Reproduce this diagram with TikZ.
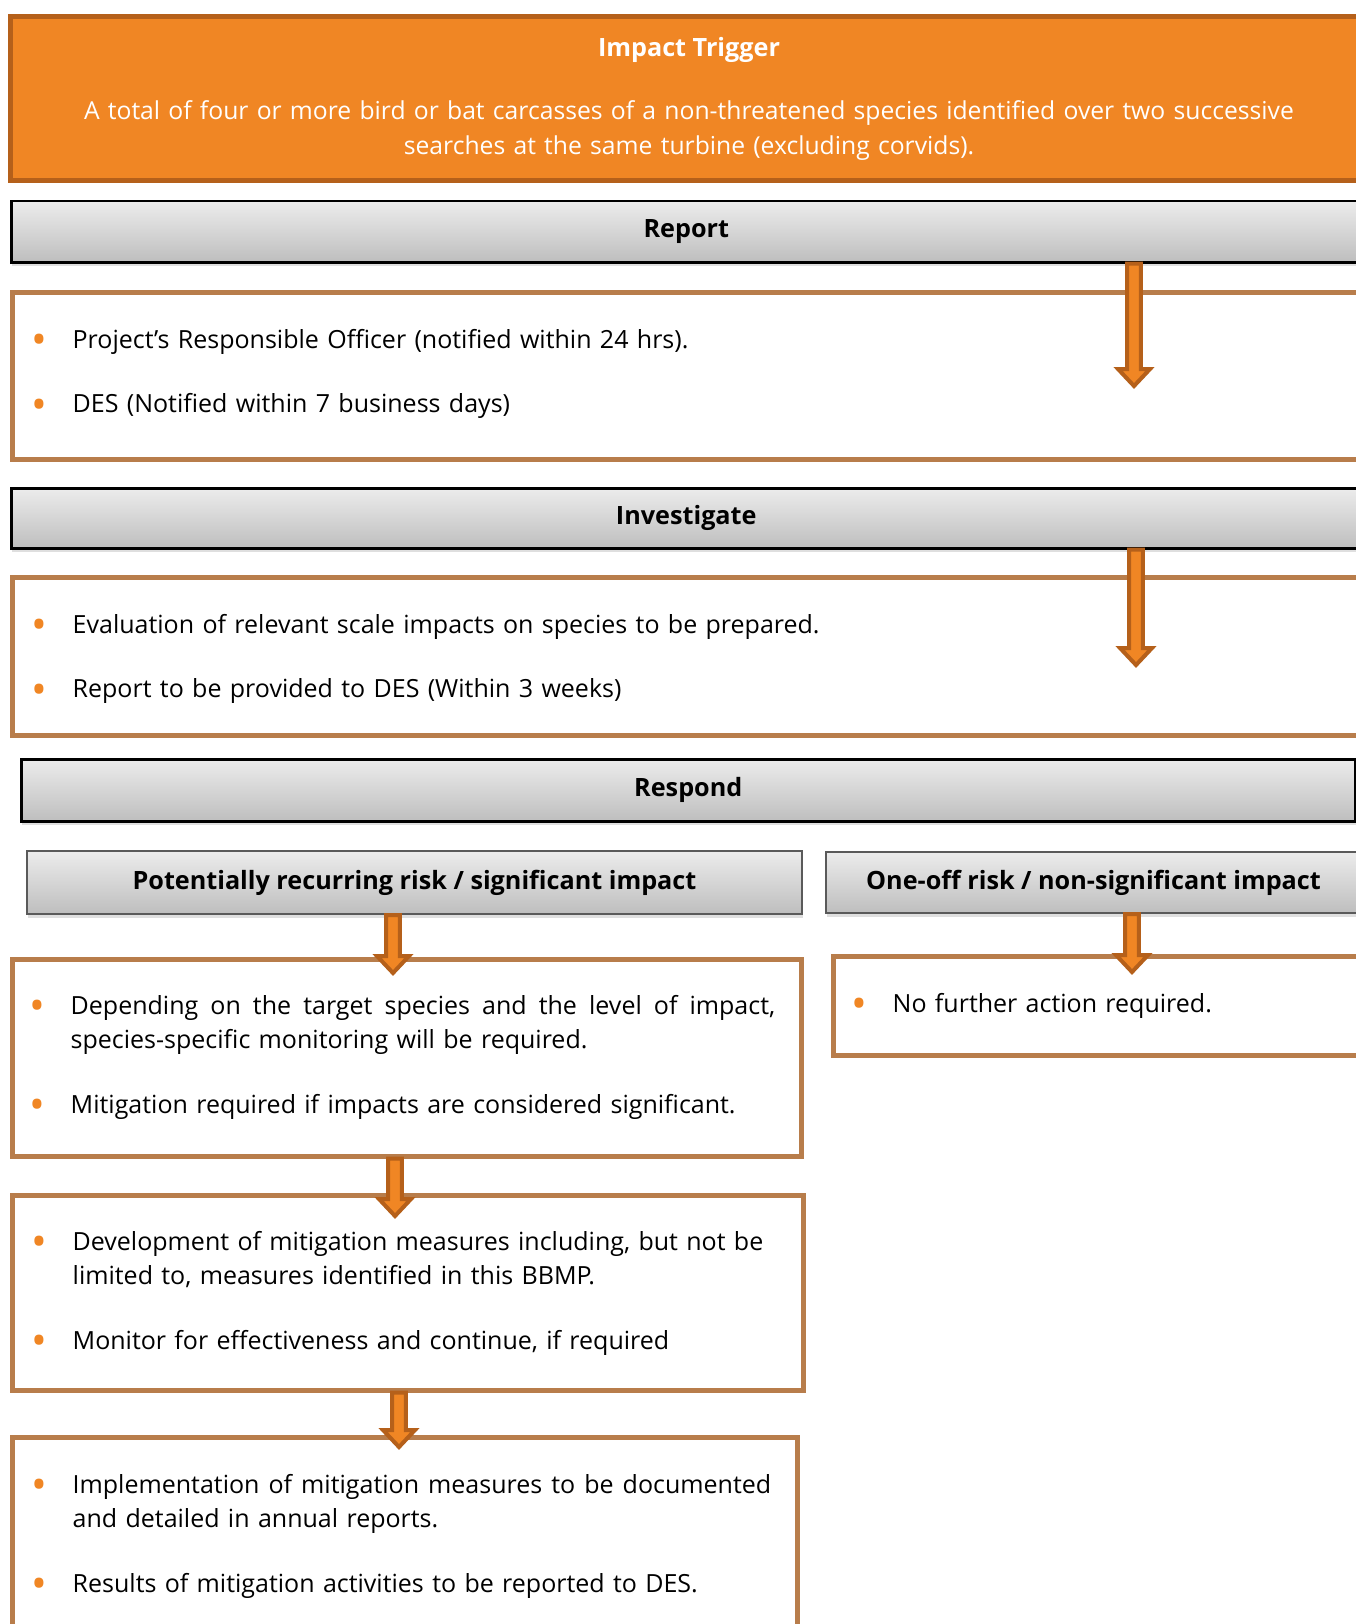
\documentclass[tikz,border=0pt]{standalone}
\usepackage{fontspec}
\setmainfont{Open Sans}
\usetikzlibrary{calc}
\usetikzlibrary{shadows}

\definecolor{trigfill}{RGB}{240,134,36}
\definecolor{trigline}{RGB}{181,96,26}
\definecolor{boxline}{RGB}{184,125,75}
\definecolor{hdrtop}{RGB}{236,236,236}
\definecolor{hdrbot}{RGB}{190,190,190}
\definecolor{subline}{RGB}{90,90,90}
\definecolor{dotorange}{RGB}{240,134,36}

\newcommand\bodyfont{\fontsize{25}{34.5}\selectfont\tolerance=10000 }
\newcommand\hdrfont{\fontsize{25.2}{30}\selectfont\bfseries}
\newcommand\bitem[1]{\hangindent=39.5pt\hangafter=1\makebox[39.5pt][l]{\hspace{-2pt}\textcolor{dotorange}{\raisebox{-6.5pt}{\fontsize{42}{42}\selectfont •}}}#1}
\newcommand\nextbit{\par\vspace{30pt}}
\newcommand\fullline[2]{\makebox[#1][s]{\spaceskip=.3333em plus 1em #2}}

\begin{document}
\begin{tikzpicture}[x=1pt,y=-1pt,every node/.style={inner sep=0pt,font=\bodyfont}]
\tikzstyle{panel}=[rectangle,anchor=north west]
\tikzstyle{trigbox}=[panel,draw=trigline,fill=trigfill,line width=5pt]
\tikzstyle{bodybox}=[panel,draw=boxline,fill=white,line width=4.5pt]
\tikzstyle{hdr}=[panel,draw=black,line width=2.5pt,top color=hdrtop,bottom color=hdrbot,font=\hdrfont,
  drop shadow={shadow xshift=1pt,shadow yshift=-4pt,opacity=0.25}]
\tikzstyle{subhdr}=[hdr,draw=subline,line width=2pt]
\tikzstyle{bullets}=[anchor=base west,text width=1100pt]
\tikzstyle{flow}=[draw=trigline,fill=trigfill,line width=4pt,line join=miter,
  to path={let \p1=(\tikztostart), \p2=(\tikztotarget) in
    (\x1-6.8pt,\y1) -- (\x1+6.8pt,\y1) -- (\x1+6.8pt,\y2+17pt) -- (\x1+16pt,\y2+17pt)
    -- (\x1,\y2) -- (\x1-16pt,\y2+17pt) -- (\x1-6.8pt,\y2+17pt) -- cycle}]

\useasboundingbox (0,0) rectangle (1356,1624);
\clip (0,0) rectangle (1356,1624);

% trigger
\node[trigbox,minimum width=1362,minimum height=164] (trig) at (8,14) {};
\node[text=white,font=\hdrfont] (trigtitle) at (689,50) {Impact Trigger};
\node[text=white,anchor=base,text width=1320,align=center,font=\fontsize{24.7}{35}\selectfont] (trigtext) at (689,120)
  {A total of four or more bird or bat carcasses of a non-threatened species identified over two successive\\ searches at the same turbine (excluding corvids).};

% report + investigate
\node[hdr,minimum width=1350,minimum height=61] (report) at (10,200) {Report};
\node[bodybox,minimum width=1360,minimum height=167] (repbox) at (10,290) {};
\node[hdr,minimum width=1350,minimum height=60] (invest) at (10,487) {Investigate};
\node[bodybox,minimum width=1360,minimum height=158] (invbox) at (10,575) {};

% respond
\node[hdr,minimum width=1334,minimum height=62] (respond) at (20,758) {Respond};
\node[subhdr,minimum width=775,minimum height=63] (rechdr) at (26,850) {Potentially recurring risk / significant impact};
\node[subhdr,minimum width=535,minimum height=61] (offhdr) at (825,851) {One-off risk / non-significant impact};
\node[bodybox,minimum width=789,minimum height=197] (recbox) at (10,957) {};
\node[bodybox,minimum width=540,minimum height=99] (offbox) at (831,954) {};
\node[bodybox,minimum width=791,minimum height=195] (mitbox) at (10,1193) {};
\node[bodybox,minimum width=785,minimum height=240] (impbox) at (10,1435) {};

% arrows
\coordinate (reptip) at (1134,386);
\coordinate (invtip) at (1136,665);
\coordinate (rectip) at (393,973);
\coordinate (offtip) at (1132,972);
\coordinate (mittip) at (395,1216);
\coordinate (imptip) at (399,1447);
\draw[flow] (report.south -| reptip) to (reptip);
\draw[flow] (invest.south -| invtip) to (invtip);
\draw[flow] (rechdr.south -| rectip) to (rectip);
\draw[flow] (offhdr.south -| offtip) to (offtip);
\draw[flow] (recbox.south -| mittip) to (mittip);
\draw[flow] (mitbox.south -| imptip) to (imptip);

% texts
\node[bullets] (replist) at (33,348)
  {\bitem{Project’s Responsible Officer (notified within 24 hrs).}\nextbit\bitem{DES (Notified within 7 business days)}};
\node[bullets] (invlist) at (33,633)
  {\bitem{Evaluation of relevant scale impacts on species to be prepared.}\nextbit\bitem{Report to be provided to DES (Within 3 weeks)}};
\node[bullets,text width=760] (reclist) at (31,1014)
  {\bitem{\fullline{704.5pt}{Depending on the target species and the level of impact,}\newline species-specific monitoring will be required.}\nextbit\bitem{Mitigation required if impacts are considered significant.}};
\node[bullets,text width=480] (offlist) at (853,1012)
  {\bitem{No further action required.}};
\node[bullets,text width=760] (mitlist) at (33,1250)
  {\bitem{Development of mitigation measures including, but not be\newline limited to, measures identified in this BBMP.}\nextbit\bitem{Monitor for effectiveness and continue, if required}};
\node[bullets,text width=760] (implist) at (33,1493)
  {\bitem{\fullline{698.5pt}{Implementation of mitigation measures to be documented}\newline and detailed in annual reports.}\nextbit\bitem{Results of mitigation activities to be reported to DES.}};
\end{tikzpicture}
\end{document}
